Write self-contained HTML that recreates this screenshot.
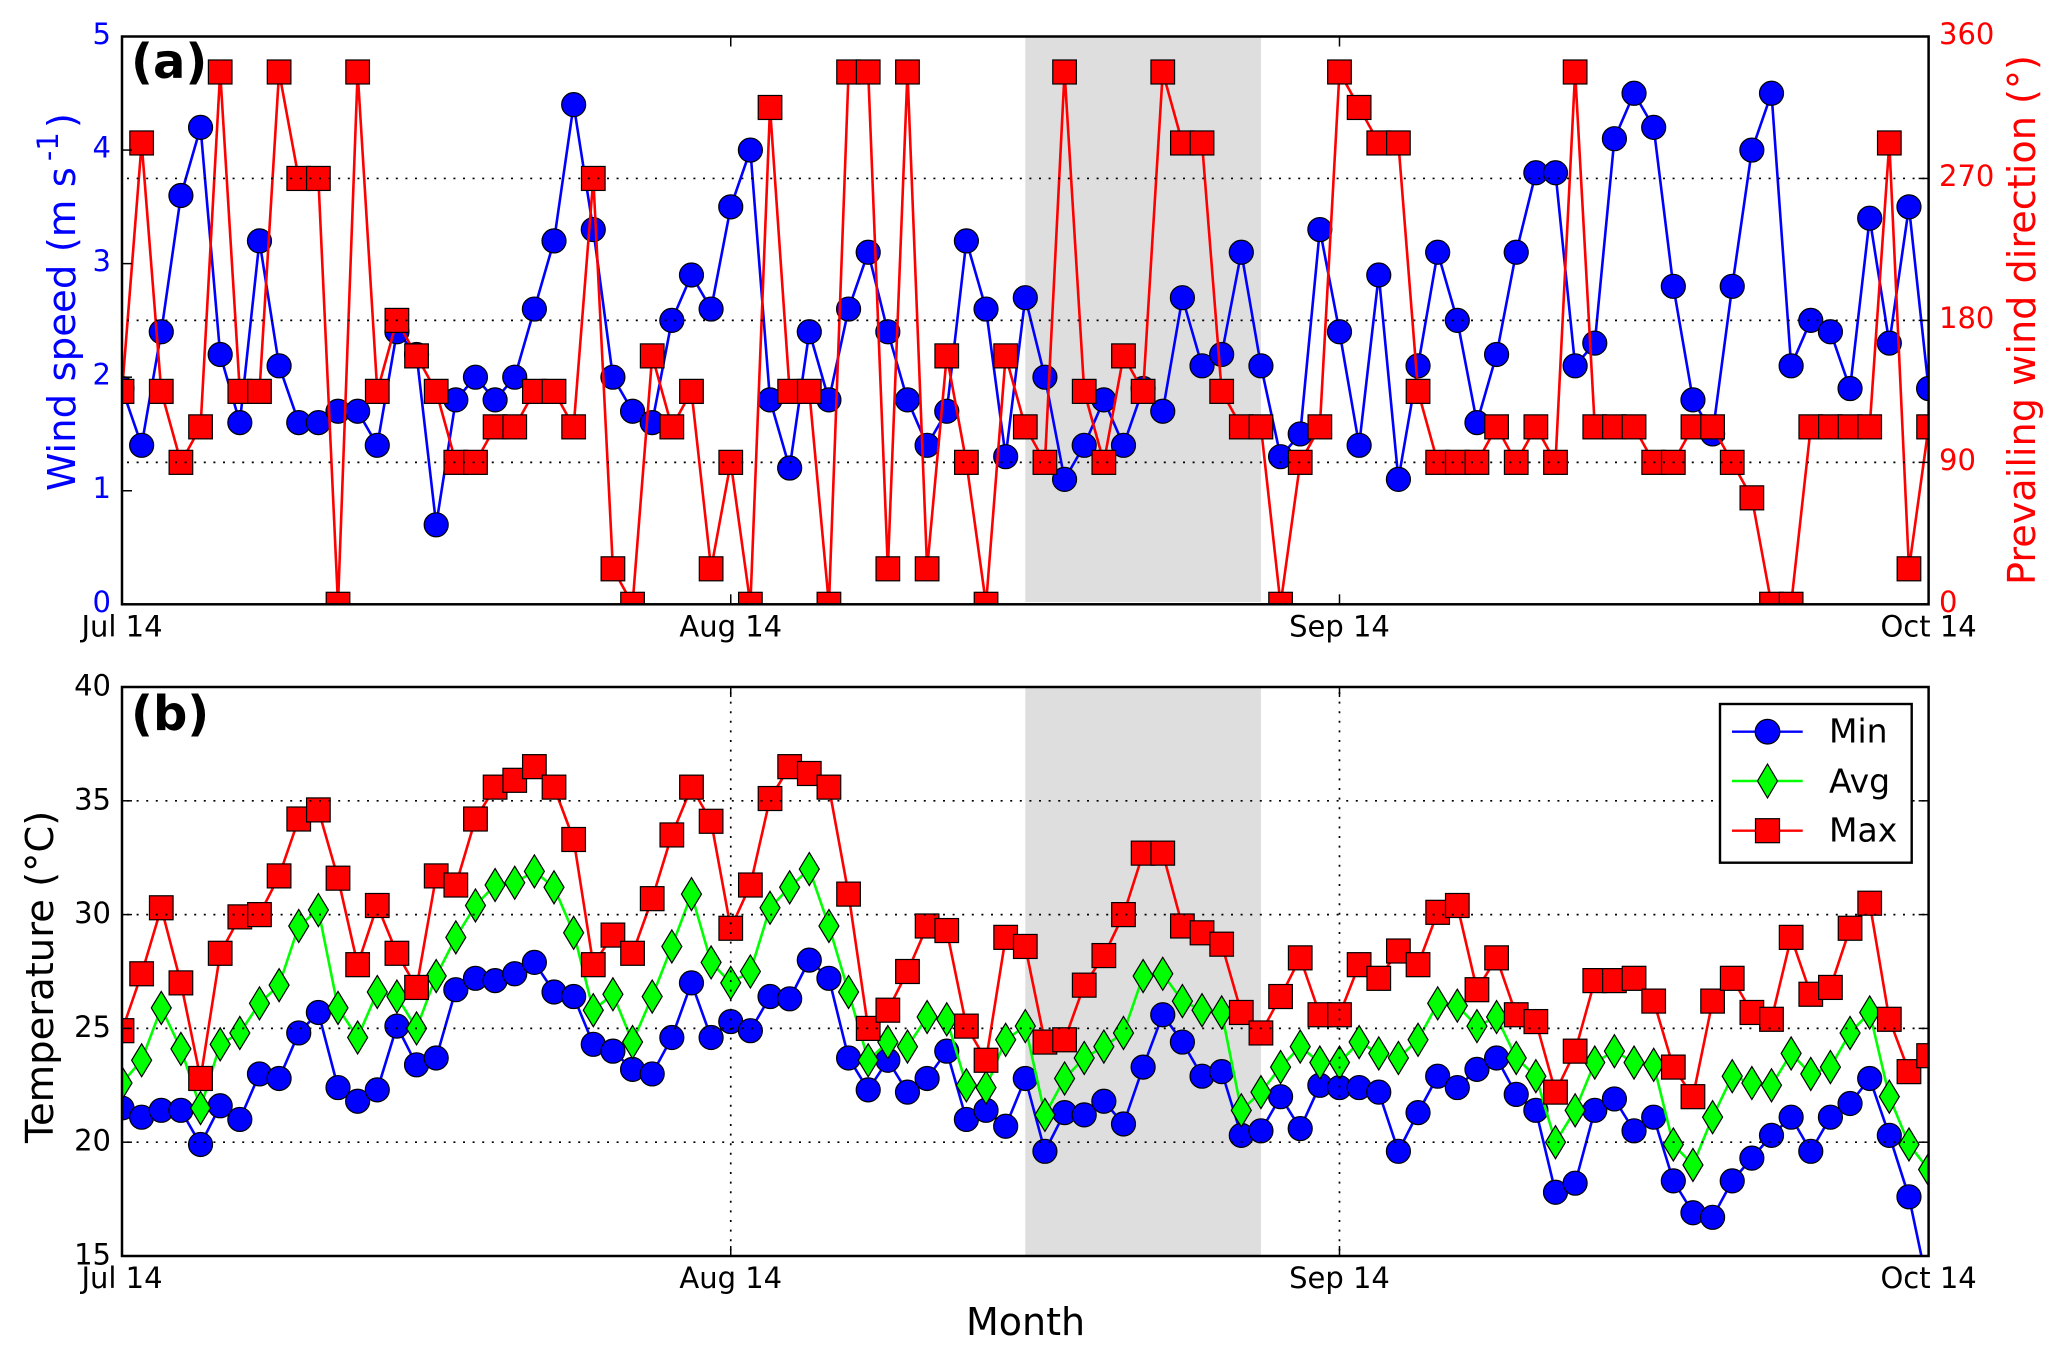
<!DOCTYPE html>
<html lang="en">
<head>
<meta charset="utf-8">
<title>Wind and temperature time series</title>
<style>
html,body{margin:0;padding:0;background:#fff;}
svg{display:block;font-family:"DejaVu Sans","Liberation Sans",sans-serif;}
</style>
</head>
<body>
<svg id="chart" xmlns="http://www.w3.org/2000/svg" width="2067" height="1359" viewBox="0 0 2067 1359">
  <defs>
    <clipPath id="clip-a"><rect x="122" y="36.5" width="1806.6" height="567.8"/></clipPath>
    <clipPath id="clip-b"><rect x="122" y="687" width="1806.6" height="569"/></clipPath>
  </defs>
  <rect x="0" y="0" width="2067" height="1359" fill="#fff"/>
  <g id="panel-a"></g>
  <g id="panel-b"></g>

  <text x="131" y="78" font-size="48" font-weight="bold" fill="#000">(a)</text>
  <text x="131" y="730" font-size="48" font-weight="bold" fill="#000">(b)</text>

  <text transform="translate(75,491) rotate(-90)" font-size="38.7" fill="#0000ff">Wind speed (m s<tspan dy="-17" dx="6" font-size="29">-1</tspan><tspan dy="17" dx="4">)</tspan></text>
  <text transform="translate(2035,585) rotate(-90)" font-size="38.2" fill="#ff0000">Prevailing wind direction (°)</text>
  <text transform="translate(53,1143) rotate(-90)" font-size="38.5" fill="#000">Temperature (°C)</text>
  <text x="966" y="1335" font-size="38" fill="#000">Month</text>

  <g>
    <rect x="1720" y="704" width="191.7" height="158.7" fill="#fff" stroke="#000" stroke-width="2.4"/>
    <g>
      <line x1="1732" x2="1802.7" y1="731.7" y2="731.7" stroke="#0000ff" stroke-width="2.4"/>
      <circle cx="1767.5" cy="731.7" r="12.3" fill="#0000ff" stroke="#000" stroke-width="1.2"/>
      <text x="1829" y="742.7" font-size="33" fill="#000">Min</text>
    </g>
    <g>
      <line x1="1732" x2="1802.7" y1="781" y2="781" stroke="#00ff00" stroke-width="2.4"/>
      <polygon points="1767.5,764 1777.5,781 1767.5,798 1757.5,781" fill="#00ff00" stroke="#000" stroke-width="1.2"/>
      <text x="1829" y="792.3" font-size="33" fill="#000">Avg</text>
    </g>
    <g>
      <line x1="1732" x2="1802.7" y1="830.7" y2="830.7" stroke="#ff0000" stroke-width="2.4"/>
      <rect x="1755.5" y="818.7" width="24" height="24" fill="#ff0000" stroke="#000" stroke-width="1.2"/>
      <text x="1829" y="841.7" font-size="33" fill="#000">Max</text>
    </g>
  </g>
</svg>
<script>
var xTickDays = [0, 31, 62, 92];
var xTickLabels = ["Jul 14", "Aug 14", "Sep 14", "Oct 14"];
var shadedDays = [46, 58];

var speedTicks = [0, 1, 2, 3, 4, 5];
var directionTicks = [0, 90, 180, 270, 360];
var temperatureTicks = [15, 20, 25, 30, 35, 40];

var windSpeed = [1.9,1.4,2.4,3.6,4.2,2.2,1.6,3.2,2.1,1.6,1.6,1.7,1.7,1.4,2.4,2.2,0.7,1.8,2.0,1.8,2.0,2.6,3.2,4.4,3.3,2.0,1.7,1.6,2.5,2.9,2.6,3.5,4.0,1.8,1.2,2.4,1.8,2.6,3.1,2.4,1.8,1.4,1.7,3.2,2.6,1.3,2.7,2.0,1.1,1.4,1.8,1.4,1.9,1.7,2.7,2.1,2.2,3.1,2.1,1.3,1.5,3.3,2.4,1.4,2.9,1.1,2.1,3.1,2.5,1.6,2.2,3.1,3.8,3.8,2.1,2.3,4.1,4.5,4.2,2.8,1.8,1.5,2.8,4.0,4.5,2.1,2.5,2.4,1.9,3.4,2.3,3.5,1.9];
var windDirection = [135,292.5,135,90,112.5,337.5,135,135,337.5,270,270,0,337.5,135,180,157.5,135,90,90,112.5,112.5,135,135,112.5,270,22.5,0,157.5,112.5,135,22.5,90,0,315,135,135,0,337.5,337.5,22.5,337.5,22.5,157.5,90,0,157.5,112.5,90,337.5,135,90,157.5,135,337.5,292.5,292.5,135,112.5,112.5,0,90,112.5,337.5,315,292.5,292.5,135,90,90,90,112.5,90,112.5,90,337.5,112.5,112.5,112.5,90,90,112.5,112.5,90,67.5,0,0,112.5,112.5,112.5,112.5,292.5,22.5,112.5];

var tempMin = [21.5,21.1,21.4,21.4,19.9,21.6,21.0,23.0,22.8,24.8,25.7,22.4,21.8,22.3,25.1,23.4,23.7,26.7,27.2,27.1,27.4,27.9,26.6,26.4,24.3,24.0,23.2,23.0,24.6,27.0,24.6,25.3,24.9,26.4,26.3,28.0,27.2,23.7,22.3,23.6,22.2,22.8,24.0,21.0,21.4,20.7,22.8,19.6,21.3,21.2,21.8,20.8,23.3,25.6,24.4,22.9,23.1,20.3,20.5,22.0,20.6,22.5,22.4,22.4,22.2,19.6,21.3,22.9,22.4,23.2,23.7,22.1,21.4,17.8,18.2,21.4,21.9,20.5,21.1,18.3,16.9,16.7,18.3,19.3,20.3,21.1,19.6,21.1,21.7,22.8,20.3,17.6,13.5];
var tempAvg = [22.6,23.6,25.9,24.1,21.5,24.3,24.8,26.1,26.9,29.5,30.2,25.9,24.6,26.6,26.4,25.0,27.3,29.0,30.4,31.3,31.4,31.9,31.2,29.2,25.8,26.5,24.4,26.4,28.6,30.9,27.9,27.0,27.5,30.3,31.2,32.0,29.5,26.6,23.6,24.4,24.2,25.5,25.4,22.5,22.4,24.5,25.1,21.2,22.8,23.7,24.2,24.8,27.3,27.4,26.2,25.8,25.7,21.4,22.2,23.3,24.2,23.5,23.5,24.4,23.9,23.7,24.5,26.1,26.0,25.1,25.5,23.7,22.9,20.0,21.4,23.5,24.0,23.5,23.4,19.9,19.0,21.1,22.9,22.6,22.5,23.9,23.0,23.3,24.8,25.7,22.0,19.9,18.8];
var tempMax = [24.9,27.4,30.3,27.0,22.8,28.3,29.9,30.0,31.7,34.2,34.6,31.6,27.8,30.4,28.3,26.8,31.7,31.3,34.2,35.6,35.9,36.5,35.6,33.3,27.8,29.1,28.3,30.7,33.5,35.6,34.1,29.4,31.3,35.1,36.5,36.2,35.6,30.9,25.0,25.8,27.5,29.5,29.3,25.1,23.6,29.0,28.6,24.4,24.5,26.9,28.2,30.0,32.7,32.7,29.5,29.2,28.7,25.7,24.8,26.4,28.1,25.6,25.6,27.8,27.2,28.4,27.8,30.1,30.4,26.7,28.1,25.6,25.3,22.2,24.0,27.1,27.1,27.2,26.2,23.3,22.0,26.2,27.2,25.7,25.4,29.0,26.5,26.8,29.4,30.5,25.4,23.1,23.8];

var NS = "http://www.w3.org/2000/svg";
var LEFT = 122, RIGHT = 1928.6;
var A_TOP = 36.5, A_BOTTOM = 604.3;
var B_TOP = 687, B_BOTTOM = 1256;
var LAST_DAY = 92;
var DOTS = "2 7.6";

function xScale(day) { return LEFT + day * (RIGHT - LEFT) / LAST_DAY; }
function speedScale(v) { return A_BOTTOM - v * (A_BOTTOM - A_TOP) / 5; }
function directionScale(v) { return A_BOTTOM - v * (A_BOTTOM - A_TOP) / 360; }
function temperatureScale(v) { return B_BOTTOM - (v - 15) * (B_BOTTOM - B_TOP) / 25; }

function make(tag, parent, attrs) {
  var node = document.createElementNS(NS, tag);
  for (var key in attrs) { node.setAttribute(key, attrs[key]); }
  parent.appendChild(node);
  return node;
}

function drawMarker(parent, shape, cx, cy, color) {
  var m;
  if (shape === "circle") {
    m = make("circle", parent, { cx: cx, cy: cy, r: 12, fill: color, stroke: "#000", "stroke-width": 1.2 });
  } else if (shape === "square") {
    m = make("rect", parent, { x: cx - 11.8, y: cy - 12, width: 23.6, height: 24, fill: color, stroke: "#000", "stroke-width": 1.2 });
  } else {
    var pts = cx + "," + (cy - 16.5) + " " + (cx + 10) + "," + cy + " " + cx + "," + (cy + 16.5) + " " + (cx - 10) + "," + cy;
    m = make("polygon", parent, { points: pts, fill: color, stroke: "#000", "stroke-width": 1.2 });
  }
  return m;
}

function drawSeries(parent, values, yScale, shape, color, seriesName) {
  var group = make("g", parent, {});
  
  
  var pts = values.map(function (v, i) { return xScale(i) + "," + yScale(v); }).join(" ");
  var line = make("polyline", group, { points: pts, fill: "none", stroke: color, "stroke-width": 2.6 });
  
  
  values.forEach(function (v, i) {
    var marker = drawMarker(group, shape, xScale(i), yScale(v), color);
    
    
  });
}

function gridH(parent, y) {
  var g = make("line", parent, { x1: LEFT + 5, x2: RIGHT, y1: y, y2: y, stroke: "#000", "stroke-width": 1.7, "stroke-dasharray": DOTS });
  
  
}

function gridV(parent, x, top, bottom) {
  var g = make("line", parent, { x1: x, x2: x, y1: top + 5, y2: bottom, stroke: "#000", "stroke-width": 1.7, "stroke-dasharray": DOTS });
  
  
}

function tickMark(parent, x1, y1, x2, y2) {
  var t = make("line", parent, { x1: x1, y1: y1, x2: x2, y2: y2, stroke: "#000", "stroke-width": 1.5 });
  
  
}

function label(parent, x, y, str, anchor, color) {
  var t = make("text", parent, { x: x, y: y, "font-size": 29, "text-anchor": anchor, fill: color });
  t.textContent = str;
  
  
}

function frame(parent, top, bottom) {
  var r = make("rect", parent, { x: LEFT, y: top, width: RIGHT - LEFT, height: bottom - top, fill: "none", stroke: "#000", "stroke-width": 2.5 });
  
  
}

function drawXAxis(parent, top, bottom) {
  xTickDays.forEach(function (d, i) {
    var x = xScale(d);
    tickMark(parent, x, bottom, x, bottom - 10);
    tickMark(parent, x, top, x, top + 10);
    label(parent, x, bottom + 32, xTickLabels[i], "middle", "#000");
  });
}

/* Panel A */
var panelA = document.getElementById("panel-a");
var clipA = make("g", panelA, { "clip-path": "url(#clip-a)" });


var shadeA = make("rect", clipA, { x: xScale(shadedDays[0]), y: A_TOP, width: xScale(shadedDays[1]) - xScale(shadedDays[0]), height: speedScale(0.02) - A_TOP, fill: "#dedede" });


drawSeries(clipA, windSpeed, speedScale, "circle", "#0000ff", "wind-speed");
drawSeries(clipA, windDirection, directionScale, "square", "#ff0000", "wind-direction");
directionTicks.slice(1, -1).forEach(function (v) { gridH(panelA, directionScale(v)); });
speedTicks.forEach(function (v) {
  var y = speedScale(v);
  if (v > 0 && v < 5) { tickMark(panelA, LEFT, y, LEFT + 10, y); }
  label(panelA, 111, y + 7.5, String(v), "end", "#0000ff");
});
directionTicks.forEach(function (v) {
  var y = directionScale(v);
  if (v > 0 && v < 360) { tickMark(panelA, RIGHT, y, RIGHT - 10, y); }
  label(panelA, 1939, y + 7.5, String(v), "start", "#ff0000");
});
drawXAxis(panelA, A_TOP, A_BOTTOM);
frame(panelA, A_TOP, A_BOTTOM);

/* Panel B */
var panelB = document.getElementById("panel-b");
var clipB = make("g", panelB, { "clip-path": "url(#clip-b)" });


var shadeB = make("rect", clipB, { x: xScale(shadedDays[0]), y: B_TOP, width: xScale(shadedDays[1]) - xScale(shadedDays[0]), height: B_BOTTOM - B_TOP, fill: "#dedede" });


drawSeries(clipB, tempMin, temperatureScale, "circle", "#0000ff", "temperature-min");
drawSeries(clipB, tempAvg, temperatureScale, "diamond", "#00ff00", "temperature-avg");
drawSeries(clipB, tempMax, temperatureScale, "square", "#ff0000", "temperature-max");
temperatureTicks.slice(1, -1).forEach(function (v) { gridH(panelB, temperatureScale(v)); });
xTickDays.slice(1, -1).forEach(function (d) { gridV(panelB, xScale(d), B_TOP, B_BOTTOM); });
temperatureTicks.forEach(function (v) {
  var y = temperatureScale(v);
  if (v > 15 && v < 40) {
    tickMark(panelB, LEFT, y, LEFT + 10, y);
    tickMark(panelB, RIGHT, y, RIGHT - 10, y);
  }
  label(panelB, 111, y + 8.5, String(v), "end", "#000");
});
drawXAxis(panelB, B_TOP, B_BOTTOM);
frame(panelB, B_TOP, B_BOTTOM);
</script>
</body>
</html>
